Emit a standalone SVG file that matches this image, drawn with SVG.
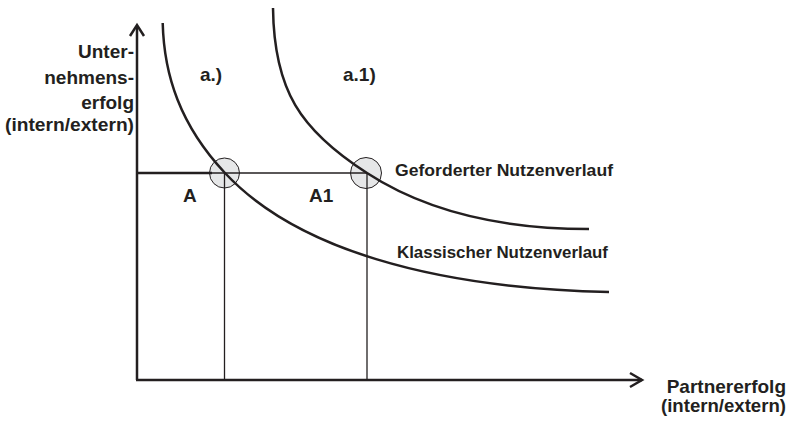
<svg xmlns="http://www.w3.org/2000/svg" width="789" height="421" viewBox="0 0 789 421">
<style>
text{font-family:"Liberation Sans",Arial,sans-serif;font-weight:bold;fill:#231f20}
.ax{font-size:19px}
.cl{font-size:17.3px}
.axis{stroke:#231f20;stroke-width:2.5;fill:none}
.thin{stroke:#231f20;stroke-width:1.3;fill:none}
.curve{stroke:#231f20;stroke-width:2.5;fill:none}
.pt{fill:#e6e7e8;stroke:#231f20;stroke-width:1}
</style>
<rect width="789" height="421" fill="#fff"/>
<g id="points">
<circle id="circleA" class="pt" cx="224.5" cy="173" r="15"/>
<circle id="circleA1" class="pt" cx="366" cy="173" r="15.5"/>
</g>
<g id="connectors">
<line class="axis" x1="137" y1="380" x2="137" y2="26"/>
<polyline class="axis" points="130,36 137,25 144,36"/>
<line class="axis" x1="136" y1="380" x2="642" y2="380"/>
<polyline class="axis" points="630,373 642,380 630,387"/>
<line class="axis" x1="137" y1="173" x2="212" y2="173"/>
<line class="thin" x1="210" y1="173" x2="367" y2="173"/>
<line class="thin" x1="224.5" y1="173" x2="224.5" y2="380"/>
<line class="thin" x1="367" y1="173" x2="367" y2="380"/>
<path id="klassisch" class="curve" d="M162.7,23 C164,75 180,125 225,173 C295,248 430,288 609,292"/>
<path id="gefordert" class="curve" d="M273,8 C274,90 300,130 367,173 C410,201 480,229 589,229"/>
</g>
<g id="labels">
<text class="ax" x="134" y="58" text-anchor="end">Unter-</text>
<text class="ax" x="134" y="84" text-anchor="end">nehmens-</text>
<text class="ax" x="134" y="109" text-anchor="end">erfolg</text>
<text class="ax" x="134" y="131" text-anchor="end" textLength="129" lengthAdjust="spacingAndGlyphs">(intern/extern)</text>
<text class="ax" x="200" y="81">a.)</text>
<text class="ax" x="343" y="81">a.1)</text>
<text class="ax" x="183" y="202">A</text>
<text class="ax" x="309" y="202">A1</text>
<text class="cl" x="395" y="176" textLength="218" lengthAdjust="spacingAndGlyphs">Geforderter Nutzenverlauf</text>
<text class="cl" x="397" y="258" textLength="211" lengthAdjust="spacingAndGlyphs">Klassischer Nutzenverlauf</text>
<text class="ax" x="786" y="393" text-anchor="end">Partnererfolg</text>
<text class="ax" x="786" y="412" text-anchor="end" textLength="125" lengthAdjust="spacingAndGlyphs">(intern/extern)</text>
</g>
</svg>
